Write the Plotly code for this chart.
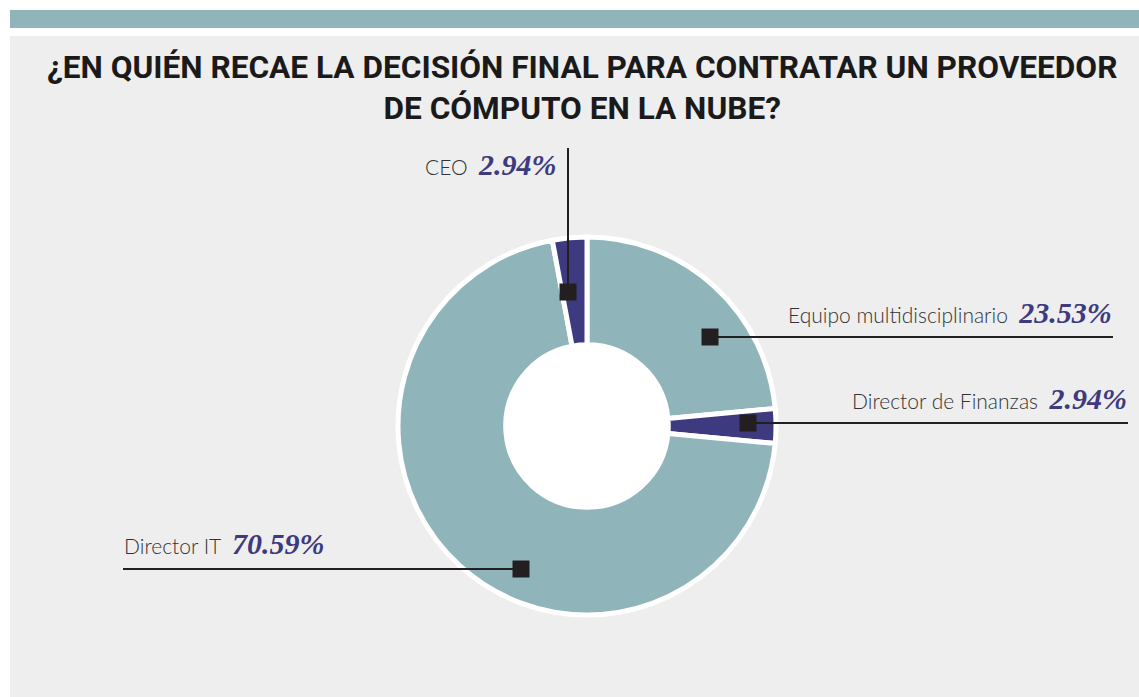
import plotly.graph_objects as go

# ---- data ----
categories = ["Equipo multidisciplinario", "Director de Finanzas", "Director IT", "CEO"]
values = [23.53, 2.94, 70.59, 2.94]
pct_labels = ["23.53%", "2.94%", "70.59%", "2.94%"]
title_text = "¿EN QUIÉN RECAE LA DECISIÓN FINAL PARA CONTRATAR UN PROVEEDOR<br>DE CÓMPUTO EN LA NUBE?"

# ---- style ----
W, H = 1139, 697
TEAL = "#8fb5bb"
NAVY = "#3d3a80"
INK = "#231f20"
slice_colors = [TEAL, NAVY, TEAL, NAVY]

cx, cy, R = 587, 426, 189  # pie centre / radius in pixels
HOLE = 0.43

# callout layout (pixel space): square anchor, line end, label anchor
callouts = [
    dict(sq=(710, 337), end=(1113, 337), lab=(1114, 331), xanchor="right"),
    dict(sq=(748, 423), end=(1128, 423), lab=(1129, 417), xanchor="right"),
    dict(sq=(521, 569), end=(123, 569), lab=(122, 562), xanchor="left"),
    dict(sq=(568, 292), end=(568, 148), lab=(559, 183), xanchor="right"),
]

fig = go.Figure()

# invisible trace to set up pixel-space axes
fig.add_trace(go.Scatter(x=[0, W], y=[0, H], mode="markers",
                         marker=dict(opacity=0), hoverinfo="skip", showlegend=False))

fig.add_trace(go.Pie(
    labels=categories, values=values, sort=False, direction="clockwise", rotation=0,
    hole=HOLE, textinfo="none", hoverinfo="label+percent",
    marker=dict(colors=slice_colors, line=dict(color="white", width=5)),
    domain=dict(x=[(cx - R) / W, (cx + R) / W], y=[(H - cy - R) / H, (H - cy + R) / H]),
    showlegend=False,
))

rh = R * HOLE + 2
shapes = [
    dict(type="rect", xref="x", yref="y", x0=10, x1=W, y0=10, y1=28,
         fillcolor=TEAL, line=dict(width=0), layer="below"),
    dict(type="rect", xref="x", yref="y", x0=10, x1=W, y0=36, y1=H,
         fillcolor="#eeeeee", line=dict(width=0), layer="below"),
    dict(type="circle", xref="x", yref="y", x0=cx - rh, x1=cx + rh, y0=cy - rh, y1=cy + rh,
         fillcolor="white", line=dict(width=0), layer="below"),
]
annotations = [
    dict(x=582, y=88, xref="x", yref="y", text=title_text, showarrow=False,
         xanchor="center", yanchor="middle", align="center",
         font=dict(family="Roboto", size=31.6, color="#1a1a1a", weight="bold")),
]

for name, pct, c in zip(categories, pct_labels, callouts):
    sx, sy = c["sq"]
    ex, ey = c["end"]
    shapes.append(dict(type="line", xref="x", yref="y", x0=sx, y0=sy, x1=ex, y1=ey,
                       line=dict(color=INK, width=2), layer="above"))
    shapes.append(dict(type="rect", xref="x", yref="y", x0=sx - 8.5, x1=sx + 8.5,
                       y0=sy - 8.5, y1=sy + 8.5, fillcolor=INK, line=dict(width=0),
                       layer="above"))
    lx, ly = c["lab"]
    txt = (f"{name}  <span style='font-family:Liberation Serif;font-size:30px;"
           f"color:{NAVY};font-weight:bold;font-style:italic'>{pct}</span>")
    annotations.append(dict(x=lx, y=ly, xref="x", yref="y", text=txt, showarrow=False,
                            xanchor=c["xanchor"], yanchor="bottom",
                            font=dict(family="Lato", size=21, color="#333333", weight=300)))

fig.update_layout(
    width=W, height=H, margin=dict(l=0, r=0, t=0, b=0),
    paper_bgcolor="white", plot_bgcolor="rgba(0,0,0,0)",
    xaxis=dict(range=[0, W], visible=False, fixedrange=True),
    yaxis=dict(range=[H, 0], visible=False, fixedrange=True),
    shapes=shapes, annotations=annotations, showlegend=False,
)

fig.write_html("out.html", config={"displayModeBar": False},
               post_script="document.body.style.margin='0';document.body.style.overflow='hidden';")
